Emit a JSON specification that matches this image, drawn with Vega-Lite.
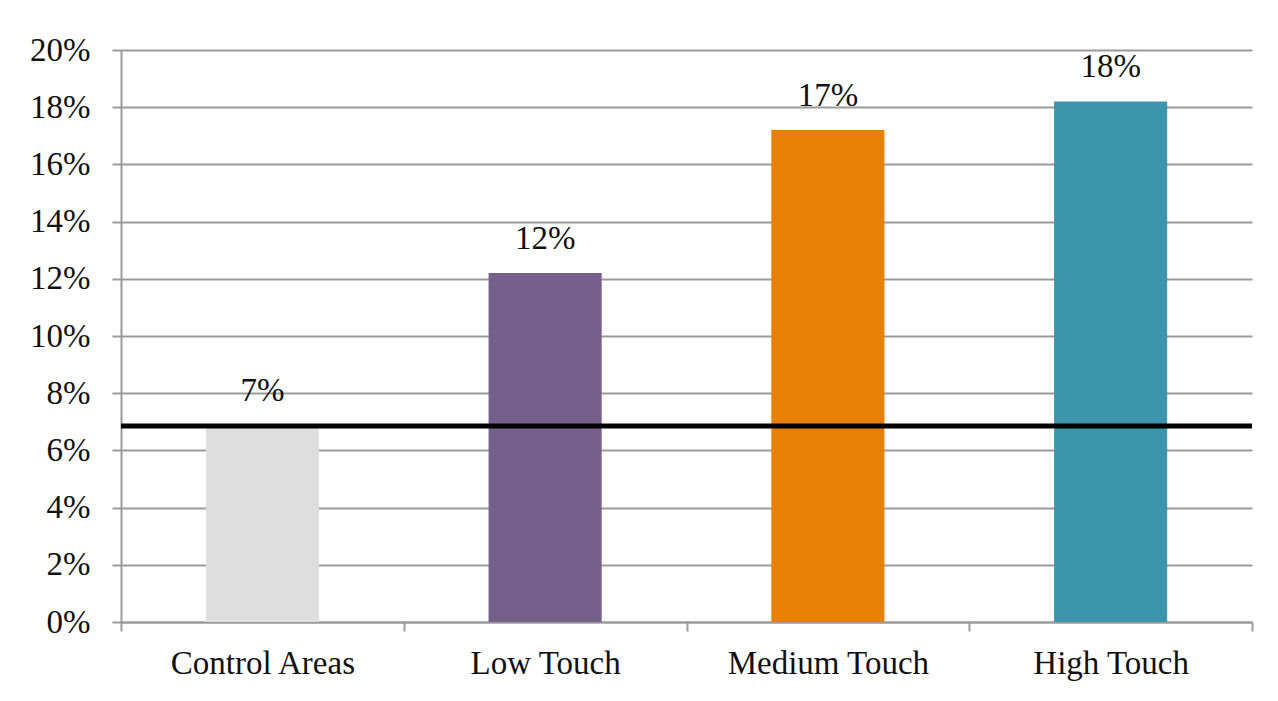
{
  "$schema": "https://vega.github.io/schema/vega-lite/v6.json",
  "width": 1131,
  "height": 572,
  "autosize": "none",
  "padding": {"left": 121, "top": 50, "right": 26, "bottom": 79},
  "background": "white",
  "config": {
    "view": {"stroke": null},
    "font": "Liberation Serif",
    "axis": {
      "labelFont": "Liberation Serif",
      "labelFontSize": 33,
      "labelColor": "#111111",
      "labelLimit": 0,
      "domainColor": "#9a9a9a",
      "domainWidth": 2,
      "tickColor": "#9a9a9a",
      "tickWidth": 2,
      "tickSize": 9,
      "gridColor": "#9a9a9a",
      "gridWidth": 2,
      "title": null
    }
  },
  "data": {
    "values": [
      {"group": "Control Areas", "share": 0.069},
      {"group": "Low Touch", "share": 0.122},
      {"group": "Medium Touch", "share": 0.172},
      {"group": "High Touch", "share": 0.182}
    ]
  },
  "encoding": {
    "x": {
      "field": "group",
      "type": "nominal",
      "sort": null,
      "scale": {"paddingInner": 0, "paddingOuter": 0},
      "axis": {"labelAngle": 0, "tickBand": "extent", "labelPadding": 16, "grid": false}
    },
    "y": {
      "field": "share",
      "type": "quantitative",
      "scale": {"domain": [0, 0.2], "nice": false},
      "axis": {
        "values": [0, 0.02, 0.04, 0.06, 0.08, 0.1, 0.12, 0.14, 0.16, 0.18, 0.2],
        "format": ".0%",
        "labelPadding": 22,
        "grid": true
      }
    }
  },
  "layer": [
    {
      "mark": {"type": "bar", "width": {"band": 0.4}},
      "encoding": {
        "color": {
          "field": "group",
          "type": "nominal",
          "scale": {
            "domain": ["Control Areas", "Low Touch", "Medium Touch", "High Touch"],
            "range": ["#dedede", "#755f8d", "#e98006", "#3c95ac"]
          },
          "legend": null
        }
      }
    },
    {
      "mark": {
        "type": "text",
        "baseline": "alphabetic",
        "dy": -24,
        "fontSize": 33,
        "font": "Liberation Serif",
        "color": "#111111"
      },
      "encoding": {
        "text": {"field": "share", "type": "quantitative", "format": ".0%"}
      }
    },
    {
      "data": {"values": [{"benchmark": 0.0685}]},
      "mark": {"type": "rule", "color": "black", "strokeWidth": 5},
      "encoding": {
        "x": null,
        "y": {"field": "benchmark", "type": "quantitative"}
      }
    }
  ]
}
